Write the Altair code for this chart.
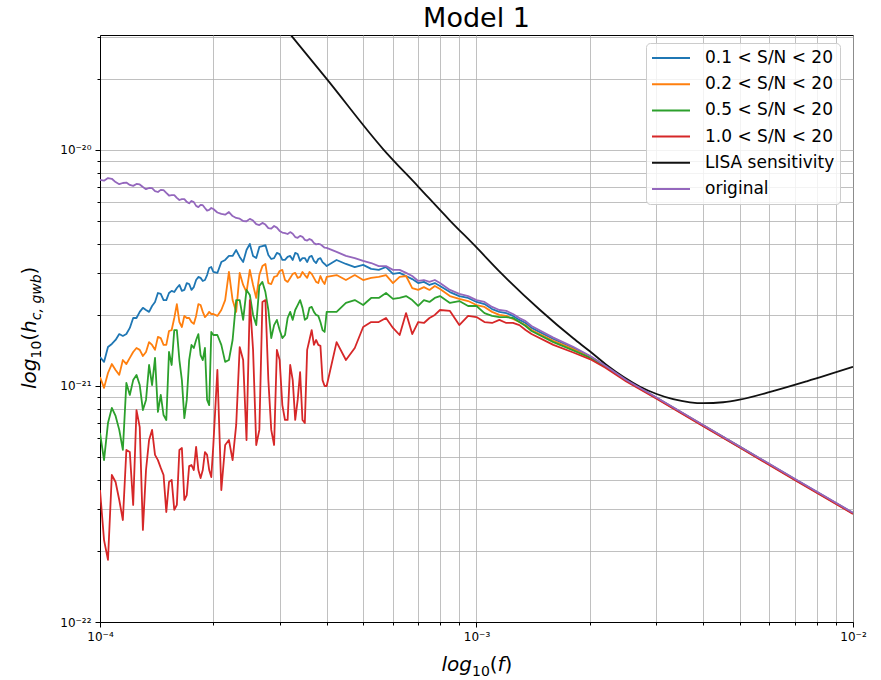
import altair as alt
import pandas as pd

# ---------------- data ----------------
# frequencies in units of 1e-4 Hz
freq_e4 = [1.000, 1.025, 1.050, 1.075, 1.100, 1.125, 1.150, 1.175, 1.200, 1.225,
           1.250, 1.275, 1.300, 1.325, 1.350, 1.375, 1.400, 1.425, 1.450, 1.475,
           1.500, 1.525, 1.550, 1.575, 1.600, 1.625, 1.650, 1.675, 1.700, 1.725,
           1.750, 1.775, 1.800, 1.825, 1.850, 1.875, 1.900, 1.925, 1.950, 1.975, 2.000,
           2.05, 2.10, 2.15, 2.20, 2.25, 2.30, 2.35, 2.40, 2.45, 2.50,
           2.55, 2.60, 2.65, 2.70, 2.75, 2.80, 2.85, 2.90, 2.95, 3.00,
           3.05, 3.10, 3.15, 3.20, 3.25, 3.30, 3.35, 3.40, 3.45, 3.50,
           3.55, 3.60, 3.65, 3.70, 3.75, 3.80, 3.85, 3.90, 3.95, 4.00,
           4.25, 4.5, 4.75, 5.0, 5.25, 5.5, 5.75, 6.0, 6.25, 6.5, 6.75, 7.0,
           7.25, 7.5, 7.75, 8.0,
           8.5, 9.0, 9.5, 10, 10.5, 11, 11.5, 12, 12.5, 13, 13.5, 14,
           16, 18, 20, 22, 25, 30, 40, 50, 70, 100]

# log10(h_c) of each curve
sn01_logh = [-20.877, -20.898, -20.835, -20.822, -20.805, -20.780, -20.788, -20.780, -20.754, -20.712,
             -20.712, -20.686, -20.669, -20.678, -20.686, -20.661, -20.644, -20.606, -20.610, -20.636,
             -20.636, -20.606, -20.597, -20.602, -20.585, -20.572, -20.597, -20.593, -20.564, -20.568,
             -20.593, -20.581, -20.551, -20.538, -20.542, -20.555, -20.551, -20.530, -20.500, -20.496, -20.517,
             -20.521, -20.475, -20.466, -20.449, -20.449, -20.424, -20.453, -20.475, -20.424, -20.398,
             -20.449, -20.458, -20.411, -20.407, -20.403, -20.445, -20.462, -20.458, -20.436, -20.441,
             -20.466, -20.466, -20.453, -20.449, -20.466, -20.436, -20.441, -20.470, -20.458, -20.458,
             -20.475, -20.453, -20.449, -20.470, -20.479, -20.462, -20.458, -20.475, -20.483, -20.492,
             -20.466, -20.483, -20.496, -20.487, -20.504, -20.508, -20.496, -20.525, -20.521, -20.534, -20.547, -20.564,
             -20.559, -20.572, -20.564, -20.576,
             -20.602, -20.619, -20.627, -20.644, -20.653, -20.674, -20.686, -20.691, -20.703, -20.720, -20.733, -20.754,
             -20.801, -20.837, -20.874, -20.915, -20.976, -21.049, -21.166, -21.257, -21.394, -21.538]

sn02_logh = [-20.962, -21.008, -20.945, -20.907, -20.932, -20.953, -20.890, -20.907, -20.881, -20.856,
             -20.839, -20.847, -20.873, -20.856, -20.814, -20.826, -20.847, -20.792, -20.797, -20.826,
             -20.826, -20.767, -20.763, -20.712, -20.653, -20.729, -20.750, -20.703, -20.712, -20.712,
             -20.729, -20.737, -20.703, -20.653, -20.657, -20.686, -20.708, -20.699, -20.686, -20.695, -20.695,
             -20.703, -20.678, -20.636, -20.517, -20.636, -20.686, -20.521, -20.572, -20.602, -20.508,
             -20.572, -20.627, -20.530, -20.492, -20.483, -20.564, -20.568, -20.538, -20.534, -20.513,
             -20.508, -20.551, -20.559, -20.542, -20.525, -20.521, -20.542, -20.538, -20.517, -20.530,
             -20.542, -20.517, -20.525, -20.542, -20.559, -20.564, -20.534, -20.555, -20.568, -20.538,
             -20.530, -20.551, -20.530, -20.551, -20.542, -20.538, -20.530, -20.564, -20.538, -20.534, -20.585, -20.593,
             -20.581, -20.593, -20.576, -20.589,
             -20.619, -20.631, -20.640, -20.657, -20.665, -20.686, -20.699, -20.703, -20.716, -20.729, -20.742, -20.763,
             -20.809, -20.843, -20.877, -20.917, -20.977, -21.050, -21.167, -21.258, -21.395, -21.539]

sn05_logh = [-21.199, -21.314, -21.157, -21.093, -21.127, -21.186, -21.271, -20.987, -21.038, -20.975,
             -20.953, -20.996, -21.102, -21.059, -20.911, -20.996, -20.881, -21.110, -21.038, -21.123,
             -21.144, -20.856, -20.911, -20.763, -20.763, -20.890, -20.975, -21.136, -21.059, -20.890,
             -20.826, -20.839, -20.805, -20.780, -20.869, -20.890, -20.839, -21.059, -21.081, -20.771, -20.784,
             -20.784, -20.826, -20.898, -20.890, -20.805, -20.636, -20.636, -20.720, -20.593, -20.614,
             -20.699, -20.742, -20.576, -20.559, -20.602, -20.678, -20.797, -20.742, -20.720, -20.763,
             -20.797, -20.784, -20.712, -20.686, -20.720, -20.678, -20.657, -20.636, -20.669, -20.720,
             -20.712, -20.669, -20.665, -20.686, -20.699, -20.703, -20.729, -20.763, -20.771, -20.686,
             -20.686, -20.648, -20.636, -20.657, -20.627, -20.627, -20.606, -20.631, -20.627, -20.619, -20.636, -20.661,
             -20.636, -20.644, -20.627, -20.619,
             -20.648, -20.640, -20.661, -20.661, -20.691, -20.703, -20.708, -20.708, -20.712, -20.729, -20.746, -20.767,
             -20.814, -20.848, -20.880, -20.919, -20.978, -21.051, -21.168, -21.259, -21.396, -21.540]

sn10_logh = [-21.441, -21.653, -21.737, -21.377, -21.407, -21.483, -21.568, -21.271, -21.280, -21.504,
             -21.102, -21.174, -21.610, -21.356, -21.229, -21.186, -21.292, -21.314, -21.347, -21.377,
             -21.534, -21.407, -21.398, -21.525, -21.504, -21.271, -21.263, -21.483, -21.462, -21.339,
             -21.335, -21.356, -21.258, -21.356, -21.390, -21.356, -21.280, -21.292, -21.356, -21.386, -21.250,
             -20.932, -21.441, -21.250, -21.229, -21.314, -21.165, -20.835, -20.890, -21.229, -20.636,
             -20.847, -21.250, -21.186, -20.644, -20.636, -20.975, -21.186, -21.250, -20.847, -20.890,
             -21.081, -21.144, -21.144, -20.911, -20.975, -21.144, -21.059, -20.941, -21.144, -21.157,
             -20.847, -20.805, -20.763, -20.826, -20.805, -20.826, -20.830, -20.975, -21.000, -21.000,
             -20.814, -20.890, -20.839, -20.750, -20.729, -20.729, -20.712, -20.754, -20.784, -20.691, -20.780, -20.729,
             -20.733, -20.712, -20.699, -20.678,
             -20.682, -20.742, -20.703, -20.708, -20.729, -20.733, -20.720, -20.733, -20.733, -20.742, -20.763, -20.780,
             -20.826, -20.857, -20.886, -20.923, -20.981, -21.053, -21.170, -21.261, -21.398, -21.542]

original_logh = [-20.127, -20.130, -20.119, -20.122, -20.136, -20.145, -20.140, -20.138, -20.148, -20.152,
                 -20.144, -20.146, -20.157, -20.166, -20.161, -20.162, -20.174, -20.178, -20.169, -20.170,
                 -20.182, -20.193, -20.191, -20.191, -20.203, -20.212, -20.208, -20.208, -20.220, -20.226,
                 -20.216, -20.221, -20.237, -20.242, -20.233, -20.234, -20.246, -20.257, -20.254, -20.246, -20.250,
                 -20.265, -20.271, -20.274, -20.263, -20.280, -20.288, -20.291, -20.301, -20.302, -20.292,
                 -20.299, -20.314, -20.318, -20.309, -20.316, -20.331, -20.333, -20.322, -20.329, -20.343,
                 -20.350, -20.352, -20.356, -20.348, -20.355, -20.369, -20.372, -20.364, -20.368, -20.381,
                 -20.384, -20.377, -20.382, -20.394, -20.400, -20.398, -20.400, -20.407, -20.414, -20.415,
                 -20.432, -20.449, -20.458, -20.470, -20.479, -20.492, -20.492, -20.508, -20.508, -20.521, -20.534, -20.555,
                 -20.551, -20.559, -20.551, -20.564,
                 -20.593, -20.610, -20.619, -20.636, -20.644, -20.665, -20.678, -20.682, -20.695, -20.712, -20.725, -20.746,
                 -20.795, -20.833, -20.872, -20.914, -20.975, -21.048, -21.165, -21.256, -21.393, -21.537]

lisa_f = [3.0e-4, 3.25e-4, 4.0e-4, 5.64e-4, 7.0e-4, 8.5e-4, 1.0e-3, 1.143e-3, 1.475e-3, 1.807e-3,
          2.0e-3, 2.22e-3, 2.46e-3, 2.72e-3, 3.01e-3, 3.33e-3, 3.69e-3, 4.0e-3, 4.52e-3, 5.0e-3,
          6.06e-3, 7.54e-3, 1.0e-2]
lisa_logh = [-19.455, -19.523, -19.699, -19.995, -20.155, -20.299, -20.413, -20.510, -20.678, -20.798,
             -20.853, -20.912, -20.962, -21.003, -21.034, -21.056, -21.069, -21.073, -21.069, -21.058,
             -21.024, -20.980, -20.919]

series_names = ["0.1 < S/N < 20", "0.2 < S/N < 20", "0.5 < S/N < 20",
                "1.0 < S/N < 20", "LISA sensitivity", "original"]
series_colors = ["#1f77b4", "#ff7f0e", "#2ca02c", "#d62728", "#111111", "#9467bd"]

x_ticks = [float(f"{k}e{e}") for e in (-4, -3) for k in range(1, 10)] + [1e-2]
y_ticks = [float(f"{k}e{e}") for e in (-22, -21) for k in range(1, 10)] + [1e-20, 2e-20, 3e-20]

# ---------------- build table ----------------
rows = []
for name, vals in zip(series_names[:4], [sn01_logh, sn02_logh, sn05_logh, sn10_logh]):
    for f, v in zip(freq_e4, vals):
        rows.append({"f": f * 1e-4, "h": 10 ** v, "series": name})
for f, v in zip(lisa_f, lisa_logh):
    rows.append({"f": f, "h": 10 ** v, "series": series_names[4]})
for f, v in zip(freq_e4, original_logh):
    rows.append({"f": f * 1e-4, "h": 10 ** v, "series": series_names[5]})
df = pd.DataFrame(rows)

FONT = "DejaVu Sans"
major_test = "indexof([0.0001, 0.001, 0.01, 1e-22, 1e-21, 1e-20], datum.value) >= 0"

x_enc = alt.X(
    "f:Q",
    scale=alt.Scale(type="log", domain=[1e-4, 1e-2], nice=False),
    axis=alt.Axis(
        values=x_ticks, title=None, grid=True, gridColor="#b0b0b0", gridWidth=0.8,
        domainColor="black", tickColor="black",
        tickSize={"condition": {"test": major_test, "value": 5}, "value": 3},
        labelExpr="datum.value == 0.0001 ? '10⁻⁴' : datum.value == 0.001 ? '10⁻³' : datum.value == 0.01 ? '10⁻²' : ''",
        labelFont=FONT, labelFontSize=12, labelColor="black", labelPadding=4,
        labelFlush=False, labelOverlap=False,
    ),
)
y_enc = alt.Y(
    "h:Q",
    scale=alt.Scale(type="log", domain=[1e-22, 3.07e-20], nice=False),
    axis=alt.Axis(
        values=y_ticks, title=None, grid=True, gridColor="#b0b0b0", gridWidth=0.8,
        domainColor="black", tickColor="black",
        tickSize={"condition": {"test": major_test, "value": 5}, "value": 3},
        labelExpr="datum.value == 1e-22 ? '10⁻²²' : datum.value == 1e-21 ? '10⁻²¹' : datum.value == 1e-20 ? '10⁻²⁰' : ''",
        labelFont=FONT, labelFontSize=12, labelColor="black", labelPadding=4,
        labelFlush=False, labelOverlap=False,
    ),
)

legend = alt.Legend(
    orient="none", legendX=546, legendY=8, title=None,
    symbolType="stroke", symbolStrokeWidth=2, symbolSize=1444,
    labelFont=FONT, labelFontSize=17, labelColor="black",
    fillColor="rgba(255,255,255,0.8)", strokeColor="#cccccc", cornerRadius=4,
    padding=5, clipHeight=20, rowPadding=6.2, labelOffset=14,
)
color_enc = alt.Color("series:N", scale=alt.Scale(domain=series_names, range=series_colors), legend=legend)

layers = []
for name in series_names:
    layers.append(
        alt.Chart(df).transform_filter(alt.datum.series == name)
        .mark_line(strokeWidth=1.8, clip=True, strokeJoin="round",
                   interpolate="monotone" if name == "LISA sensitivity" else "linear")
        .encode(x=x_enc, y=y_enc, color=color_enc)
    )


def txt(s, x, y, size, italic=False, angle=0, align="left"):
    kw = dict(text=s, font=FONT, fontSize=size, align=align, baseline="alphabetic", color="black")
    if italic:
        kw["fontStyle"] = "italic"
    if angle:
        kw["angle"] = angle
    return alt.Chart(pd.DataFrame({"k": [0]})).mark_text(**kw).encode(x=alt.value(x), y=alt.value(y))


# title
layers.append(txt("Model 1", 376.5, -8, 27, align="center"))
# x axis title  log10(f)
layers += [
    txt("log", 341.5, 636, 20, italic=True),
    txt("10", 372, 641, 14),
    txt("(", 389.8, 636, 20),
    txt("f", 397.6, 636, 20, italic=True),
    txt(")", 404.6, 636, 20),
]
# y axis title  log10(h_c,gwb)  rotated
layers += [
    txt("log", -64, 354, 20, italic=True, angle=270),
    txt("10", -59, 323.5, 14, angle=270),
    txt("(", -64, 305.7, 20, angle=270),
    txt("h", -64, 297.9, 20, italic=True, angle=270),
    txt("c, gwb", -59, 285.2, 14, italic=True, angle=270),
    txt(")", -64, 239.4, 20, angle=270),
]

chart = alt.layer(*layers).properties(
    width=753, height=587,
    padding={"left": 100, "top": 35, "right": 28, "bottom": 58},
    autosize=alt.AutoSizeParams(type="none"),
).configure(background="white").configure_view(stroke="black", strokeWidth=1)

chart.save("out.html", embed_options={"renderer": "svg", "actions": False})
